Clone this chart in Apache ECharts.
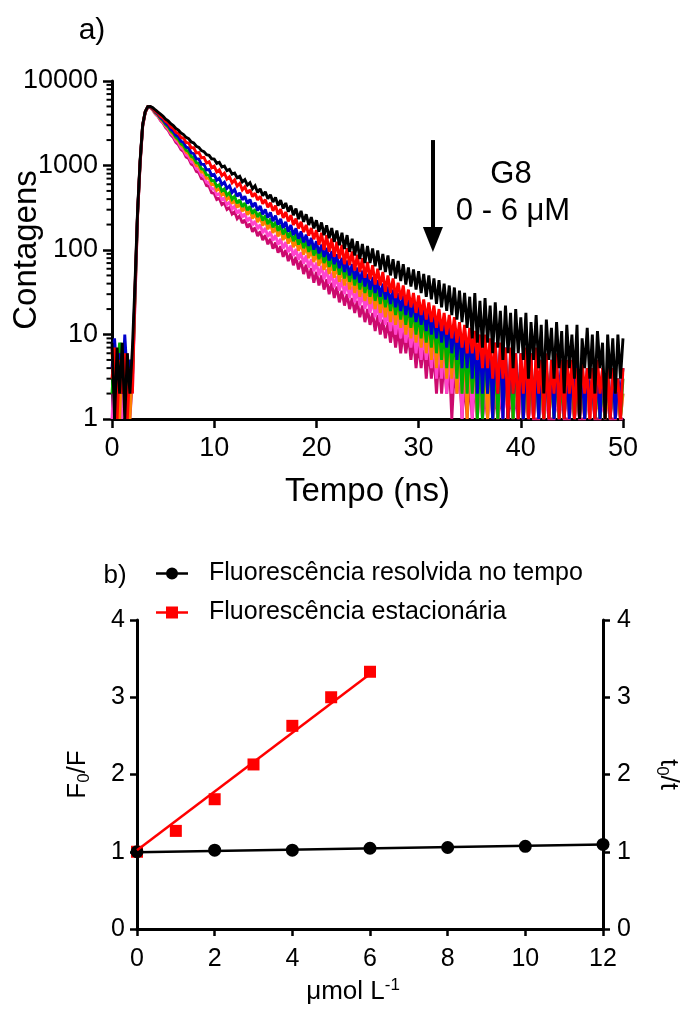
<!DOCTYPE html>
<html>
<head>
<meta charset="utf-8">
<script src="https://cdn.jsdelivr.net/npm/echarts@6/dist/echarts.min.js"></script>
<style>
  html, body { margin: 0; padding: 0; background: #fff; }
  #chart { width: 685px; height: 1017px; }
</style>
</head>
<body>
<div id="chart"></div>
<script>
const FONT = '"Liberation Sans", Arial, sans-serif';

// ---------- a) fluorescence decays: counts per 0.25 ns channel, 0–50 ns (10 channels per row) ----------
const channelNs = 0.25;

const decay0uM = [
  8, 1, 7, 2, 8, 1, 6, 2, 7, 40,
  290, 1150, 3050, 4350, 4980, 5010, 4820, 4540, 4290, 4060,
  3830, 3540, 3370, 3130, 2970, 2740, 2620, 2430, 2320, 2150,
  2080, 1900, 1850, 1690, 1640, 1500, 1460, 1340, 1320, 1200,
  1190, 1060, 1090, 960, 985, 870, 900, 790, 815, 715,
  745, 640, 680, 585, 625, 530, 575, 480, 530, 440,
  490, 405, 450, 370, 420, 335, 390, 310, 360, 285,
  335, 258, 310, 232, 290, 215, 265, 198, 245, 180,
  225, 165, 212, 150, 196, 138, 182, 125, 170, 114,
  160, 103, 150, 95, 136, 86, 127, 78, 118, 70,
  112, 70, 104, 64, 99, 58, 90, 55, 86, 50,
  78, 46, 74, 43, 68, 39, 62, 37, 59, 34,
  56, 31, 52, 28, 50, 26, 46, 23, 44, 21,
  40, 19, 38, 17, 36, 15, 33, 14, 31, 12,
  28, 9, 31, 8, 25, 7, 27, 8, 22, 6,
  24, 7, 19, 5, 22, 6, 18, 4, 20, 6,
  16, 5, 18, 3, 14, 5, 17, 4, 13, 2,
  15, 5, 12, 3, 14, 4, 11, 2, 13, 4,
  10, 3, 13, 1, 9, 4, 12, 3, 10, 2,
  11, 4, 8, 1, 10, 3, 9, 2, 10, 3,
  9];

const decay1uM = [
  3, 7, 1, 5, 2, 6, 1, 4, 2, 35,
  275, 1120, 3020, 4320, 4960, 4950, 4720, 4380, 4160, 3810,
  3640, 3320, 3170, 2870, 2750, 2470, 2400, 2150, 2100, 1870,
  1840, 1620, 1620, 1410, 1420, 1230, 1250, 1070, 1110, 940,
  985, 840, 890, 760, 810, 690, 735, 625, 675, 570,
  615, 515, 560, 470, 515, 428, 470, 390, 432, 352,
  395, 320, 362, 290, 335, 262, 305, 240, 282, 218,
  258, 198, 236, 180, 216, 163, 198, 148, 182, 134,
  172, 115, 160, 100, 150, 95, 137, 83, 125, 79,
  115, 68, 105, 66, 96, 57, 88, 55, 80, 47,
  72, 45, 66, 39, 60, 38, 55, 32, 50, 31,
  46, 27, 41, 26, 38, 22, 34, 21, 31, 18,
  29, 17, 26, 15, 24, 14, 22, 12, 20, 11,
  18, 10, 17, 9, 16, 8, 14, 7, 13, 6,
  12, 6, 11, 5, 10, 4, 10, 4, 9, 3,
  8, 2, 8, 3, 7, 1, 7, 2, 6, 1,
  6, 2, 7, 1, 6, 1, 7, 2, 5, 1,
  6, 1, 5, 2, 6, 1, 5, 1, 5, 2,
  5, 1, 4, 1, 5, 2, 4, 1, 4, 1,
  5, 2, 4, 1, 4, 1, 4, 2, 3, 1,
  4];

const decay2uM = [
  4, 9, 3, 6, 2, 10, 3, 5, 4, 32,
  268, 1100, 2990, 4300, 4940, 4920, 4680, 4310, 4060, 3690,
  3490, 3160, 2990, 2680, 2550, 2280, 2180, 1940, 1870, 1650,
  1610, 1410, 1380, 1200, 1190, 1030, 1030, 885, 895, 765,
  785, 670, 705, 595, 635, 535, 575, 480, 520, 432,
  475, 392, 432, 355, 395, 322, 362, 292, 332, 265,
  302, 242, 278, 220, 255, 200, 234, 182, 215, 165,
  197, 150, 181, 136, 166, 123, 152, 112, 139, 101,
  127, 91, 116, 83, 106, 75, 97, 68, 89, 61,
  81, 55, 75, 50, 68, 45, 62, 41, 57, 37,
  52, 34, 48, 31, 44, 28, 40, 26, 37, 23,
  34, 21, 31, 19, 29, 17, 26, 16, 24, 14,
  22, 13, 20, 11, 19, 10, 17, 9, 16, 8,
  15, 7, 14, 6, 13, 5, 12, 4, 11, 4,
  10, 3, 10, 2, 9, 2, 9, 2, 8, 1,
  8, 2, 7, 1, 7, 1, 6, 2, 6, 1,
  6, 1, 5, 2, 6, 1, 5, 1, 5, 2,
  4, 1, 5, 1, 4, 2, 5, 1, 4, 1,
  4, 2, 5, 1, 4, 1, 4, 2, 3, 1,
  4, 1, 4, 2, 3, 1, 4, 1, 3, 2,
  4];

const decay3uM = [
  2, 6, 4, 8, 3, 7, 2, 5, 3, 30,
  262, 1080, 2960, 4280, 4930, 4900, 4640, 4250, 3990, 3610,
  3390, 3060, 2870, 2570, 2420, 2160, 2040, 1810, 1720, 1520,
  1460, 1280, 1240, 1080, 1050, 915, 895, 775, 770, 660,
  665, 565, 592, 500, 528, 445, 477, 398, 432, 358,
  393, 324, 360, 295, 330, 268, 303, 245, 278, 223,
  256, 203, 235, 185, 216, 168, 198, 153, 182, 139,
  167, 127, 154, 116, 141, 105, 129, 95, 118, 86,
  108, 78, 99, 70, 91, 63, 83, 57, 76, 51,
  70, 46, 64, 42, 59, 38, 54, 34, 49, 31,
  45, 28, 41, 25, 37, 23, 34, 21, 31, 19,
  28, 17, 26, 15, 24, 13, 22, 12, 20, 10,
  18, 9, 17, 8, 15, 7, 14, 6, 13, 5,
  12, 4, 11, 4, 10, 3, 10, 2, 9, 2,
  8, 2, 8, 1, 7, 1, 7, 2, 6, 1,
  6, 1, 6, 2, 5, 1, 5, 1, 5, 2,
  4, 1, 5, 1, 4, 2, 4, 1, 4, 1,
  4, 2, 3, 1, 4, 1, 3, 1, 4, 2,
  3, 1, 3, 1, 4, 1, 3, 2, 3, 1,
  3, 1, 3, 1, 4, 1, 3, 2, 3, 1,
  3];

const decay4uM = [
  6, 2, 5, 1, 7, 3, 4, 1, 4, 28,
  257, 1060, 2930, 4260, 4910, 4880, 4590, 4190, 3920, 3540,
  3320, 2980, 2790, 2490, 2340, 2080, 1960, 1730, 1640, 1440,
  1380, 1200, 1160, 1000, 975, 840, 825, 705, 705, 595,
  605, 510, 535, 450, 475, 398, 428, 355, 388, 318,
  352, 288, 321, 261, 294, 236, 268, 214, 245, 194,
  224, 176, 204, 159, 187, 145, 171, 131, 157, 119,
  144, 108, 132, 98, 120, 88, 110, 80, 101, 72,
  93, 65, 85, 58, 77, 52, 70, 47, 65, 42,
  59, 38, 54, 34, 49, 31, 45, 28, 41, 25,
  37, 23, 34, 20, 31, 18, 28, 16, 26, 14,
  24, 13, 22, 12, 20, 10, 18, 9, 17, 8,
  15, 7, 14, 6, 13, 5, 12, 4, 11, 4,
  10, 3, 9, 3, 9, 2, 8, 2, 7, 1,
  7, 2, 6, 1, 6, 2, 5, 1, 5, 1,
  5, 1, 4, 2, 5, 1, 4, 1, 4, 2,
  4, 1, 3, 1, 4, 1, 3, 2, 3, 1,
  4, 1, 3, 1, 3, 2, 3, 1, 3, 1,
  3, 1, 3, 2, 2, 1, 3, 1, 3, 1,
  2, 1, 3, 1, 2, 1, 3, 1, 2, 1,
  2];

const decay5uM = [
  1, 5, 2, 4, 1, 6, 2, 4, 2, 26,
  252, 1040, 2900, 4240, 4890, 4860, 4540, 4130, 3860, 3470,
  3240, 2900, 2700, 2400, 2240, 1980, 1860, 1630, 1540, 1340,
  1280, 1110, 1070, 920, 890, 765, 745, 635, 625, 530,
  530, 448, 465, 392, 412, 344, 367, 305, 330, 272,
  298, 244, 269, 219, 243, 197, 220, 177, 200, 159,
  182, 143, 165, 129, 150, 116, 136, 104, 124, 94,
  113, 85, 103, 77, 94, 69, 86, 62, 78, 56,
  71, 50, 65, 45, 59, 40, 54, 36, 49, 33,
  45, 30, 41, 27, 37, 24, 34, 22, 31, 20,
  28, 18, 26, 16, 23, 14, 21, 13, 19, 11,
  18, 10, 16, 9, 15, 8, 13, 7, 12, 6,
  11, 5, 10, 5, 9, 4, 9, 3, 8, 3,
  7, 2, 7, 2, 6, 2, 6, 1, 5, 2,
  5, 1, 4, 1, 4, 1, 4, 1, 3, 1,
  4, 1, 3, 1, 3, 1, 3, 1, 3, 1,
  2, 1, 3, 1, 2, 1, 3, 1, 2, 1,
  2, 1, 3, 1, 2, 1, 2, 1, 2, 1,
  3, 1, 2, 1, 2, 1, 2, 1, 2, 1,
  3, 1, 2, 1, 2, 1, 2, 1, 2, 1,
  2];

const decay6uM = [
  7, 2, 6, 1, 5, 2, 6, 1, 3, 24,
  247, 1020, 2870, 4220, 4870, 4840, 4490, 4070, 3800, 3390,
  3160, 2810, 2610, 2310, 2140, 1880, 1760, 1540, 1460, 1260,
  1210, 1040, 995, 850, 825, 700, 685, 578, 565, 475,
  468, 395, 410, 345, 360, 302, 318, 266, 284, 235,
  254, 208, 228, 185, 205, 164, 184, 146, 166, 131,
  150, 117, 135, 104, 122, 93, 111, 83, 100, 74,
  91, 66, 83, 59, 75, 52, 67, 46, 61, 41,
  55, 38, 50, 34, 45, 30, 41, 27, 37, 24,
  33, 22, 30, 20, 27, 18, 25, 16, 22, 14,
  20, 13, 18, 11, 17, 10, 15, 9, 14, 8,
  13, 7, 12, 6, 11, 6, 10, 5, 9, 4,
  8, 4, 8, 3, 7, 3, 6, 2, 6, 2,
  5, 2, 5, 1, 4, 2, 4, 1, 3, 1,
  3, 1, 3, 1, 3, 1, 2, 1, 3, 1,
  2, 1, 2, 1, 3, 1, 2, 1, 2, 1,
  2, 1, 2, 1, 2, 1, 1, 1, 2, 1,
  2, 1, 1, 1, 2, 1, 2, 1, 1, 1,
  2, 1, 2, 1, 1, 1, 2, 1, 2, 1,
  1, 1, 2, 1, 2, 1, 1, 1, 2, 1,
  1];

// drawn from the most quenched (bottom) to the unquenched curve (top)
const decaySets = [
  { name: 'G8 6 µM', color: '#CC0A6E', values: decay6uM },
  { name: 'G8 5 µM', color: '#FF44CC', values: decay5uM },
  { name: 'G8 4 µM', color: '#FF8000', values: decay4uM },
  { name: 'G8 3 µM', color: '#00B000', values: decay3uM },
  { name: 'G8 2 µM', color: '#0000CC', values: decay2uM },
  { name: 'G8 1 µM', color: '#FF0000', values: decay1uM },
  { name: 'G8 0 µM', color: '#000000', values: decay0uM }
];

const countTickLabels = ['1', '10', '100', '1000', '10000'];
const timeTickLabels = ['0', '10', '20', '30', '40', '50'];
const minorMultipliers = [2, 3, 4, 5, 6, 7, 8, 9];

// quencher arrow (time in ns, counts)
const arrowTime = 31.4;
const arrowFrom = 2000;
const arrowTo = 133;

// ---------- b) Stern–Volmer ----------
const concTR = [0, 2, 4, 6, 8, 10, 12];
const ratioTR = [1.0, 1.02, 1.02, 1.045, 1.055, 1.07, 1.095];
const concSS = [0, 1, 2, 3, 4, 5, 6];
const ratioSS = [1.0, 1.27, 1.68, 2.13, 2.63, 3.0, 3.33];
const fitTRx = [0, 12];
const fitTRy = [0.995, 1.095];
const fitSSx = [0, 6];
const fitSSy = [1.02, 3.30];

const nameTR = 'Fluorescência resolvida no tempo';
const nameSS = 'Fluorescência estacionária';

const zip = (xs, ys) => xs.map((x, i) => [x, ys[i]]);

const minorTicks = [];
countTickLabels.slice(0, -1).forEach(lbl => {
  const base = Number(lbl);
  minorMultipliers.forEach(m => minorTicks.push([0, base * m]));
});

const axisLineStyle = { color: '#000', width: 3 };
const tickStyle = { color: '#000', width: 2.5 };

const chart = echarts.init(document.getElementById('chart'), null, { renderer: 'canvas' });

const option = {
  animation: false,
  backgroundColor: '#fff',
  textStyle: { fontFamily: FONT, color: '#000' },
  grid: [
    { left: 112, right: 62, top: 81, height: 338, containLabel: false, outerBoundsMode: 'none' },
    { left: 137, right: 82, top: 620, height: 309, containLabel: false, outerBoundsMode: 'none' }
  ],
  legend: {
    data: [
      { name: nameTR, icon: 'path://M0,4.8 L11,4.8 L11,7.2 L0,7.2 Z M21,4.8 L32,4.8 L32,7.2 L21,7.2 Z M10,6 A6,6 0 1,1 22,6 A6,6 0 1,1 10,6 Z' },
      { name: nameSS, icon: 'path://M0,4.8 L11,4.8 L11,7.2 L0,7.2 Z M21,4.8 L32,4.8 L32,7.2 L21,7.2 Z M10,0 L22,0 L22,12 L10,12 Z' }
    ],
    orient: 'vertical',
    left: 156,
    top: 561,
    padding: 0,
    itemWidth: 32,
    itemHeight: 12,
    itemGap: 14,
    selectedMode: false,
    textStyle: { fontFamily: FONT, fontSize: 25, color: '#000', padding: [0, 0, 0, 16] }
  },
  xAxis: [
    {
      gridIndex: 0, type: 'value', min: 0, max: 50, interval: 10,
      axisLine: { onZero: false, lineStyle: axisLineStyle },
      axisTick: { length: 9, lineStyle: tickStyle },
      splitLine: { show: false },
      axisLabel: { fontSize: 27, color: '#000', margin: 16, fontFamily: FONT,
        formatter: v => timeTickLabels[Math.round(v / 10)] },
      name: 'Tempo (ns)', nameLocation: 'middle', nameGap: 56, nameMoveOverlap: false,
      nameTextStyle: { fontSize: 33, color: '#000', fontFamily: FONT }
    },
    {
      gridIndex: 1, type: 'value', min: 0, max: 12, interval: 2,
      axisLine: { onZero: false, lineStyle: axisLineStyle },
      axisTick: { length: 7, lineStyle: tickStyle },
      splitLine: { show: false },
      axisLabel: { fontSize: 25, color: '#000', margin: 18, fontFamily: FONT },
      name: '{t|μmol L}{p|-1}', nameLocation: 'middle', nameGap: 48, nameMoveOverlap: false,
      nameTextStyle: {
        fontFamily: FONT, color: '#000',
        rich: {
          t: { fontSize: 26, lineHeight: 30, fontFamily: FONT, color: '#000' },
          p: { fontSize: 17, lineHeight: 14, verticalAlign: 'top', fontFamily: FONT, color: '#000', padding: [0, 34, 0, 0] }
        }
      }
    }
  ],
  yAxis: [
    {
      gridIndex: 0, type: 'log', logBase: 10, min: 1, max: 10000,
      axisLine: { onZero: false, lineStyle: axisLineStyle },
      axisTick: { length: 9, lineStyle: tickStyle },
      splitLine: { show: false },
      minorTick: { show: false },
      axisLabel: { fontSize: 27, color: '#000', margin: 14, fontFamily: FONT,
        formatter: v => countTickLabels[Math.round(Math.log10(v))] },
      name: 'Contagens', nameLocation: 'middle', nameGap: 69, nameMoveOverlap: false,
      nameTextStyle: { fontSize: 33, color: '#000', fontFamily: FONT }
    },
    {
      gridIndex: 1, type: 'value', min: 0, max: 4, interval: 1, position: 'left',
      axisLine: { onZero: false, lineStyle: axisLineStyle },
      axisTick: { length: 7, lineStyle: tickStyle },
      splitLine: { show: false },
      axisLabel: { fontSize: 25, color: '#000', margin: 12, fontFamily: FONT },
      name: '{t|F}{s|0}{t|/F}', nameLocation: 'middle', nameGap: 44, nameRotate: 90, nameMoveOverlap: false,
      nameTextStyle: {
        fontFamily: FONT, color: '#000',
        rich: {
          t: { fontSize: 26, lineHeight: 30, fontFamily: FONT, color: '#000' },
          s: { fontSize: 17, lineHeight: 12, verticalAlign: 'bottom', fontFamily: FONT, color: '#000' }
        }
      }
    },
    {
      gridIndex: 1, type: 'value', min: 0, max: 4, interval: 1, position: 'right',
      axisLine: { onZero: false, lineStyle: axisLineStyle },
      axisTick: { length: 7, lineStyle: tickStyle },
      splitLine: { show: false },
      axisLabel: { fontSize: 25, color: '#000', margin: 14, fontFamily: FONT },
      name: '{t|t}{s|0}{t|/t}', nameLocation: 'middle', nameGap: 50, nameRotate: -90, nameMoveOverlap: false,
      nameTextStyle: {
        fontFamily: FONT, color: '#000',
        rich: {
          t: { fontSize: 26, lineHeight: 30, fontFamily: FONT, color: '#000' },
          s: { fontSize: 17, lineHeight: 12, verticalAlign: 'bottom', fontFamily: FONT, color: '#000' }
        }
      }
    }
  ],
  graphic: [
    { type: 'text', x: 92, y: 31, style: { text: 'a)', fontSize: 30, fontFamily: FONT, fill: '#000', align: 'center', verticalAlign: 'middle' } },
    { type: 'text', x: 115, y: 576, style: { text: 'b)', fontSize: 26, fontFamily: FONT, fill: '#000', align: 'center', verticalAlign: 'middle' } },
    { type: 'text', x: 511, y: 174, style: { text: 'G8', fontSize: 31, fontFamily: FONT, fill: '#000', align: 'center', verticalAlign: 'middle' } },
    { type: 'text', x: 513, y: 211, style: { text: '0 - 6 μM', fontSize: 31, fontFamily: FONT, fill: '#000', align: 'center', verticalAlign: 'middle' } }
  ],
  series: [
    ...decaySets.map(s => ({
      type: 'line', name: s.name, xAxisIndex: 0, yAxisIndex: 0,
      data: s.values.map((v, i) => [i * channelNs, v]),
      symbol: 'none', showSymbol: false, silent: true,
      lineStyle: { color: s.color, width: 2.9, join: 'miter', miterLimit: 2 },
      itemStyle: { color: s.color }
    })),
    {
      // log minor ticks on the count axis
      type: 'custom', name: 'minorTicks', xAxisIndex: 0, yAxisIndex: 0, silent: true,
      data: minorTicks,
      renderItem: (params, api) => {
        const p = api.coord([api.value(0), api.value(1)]);
        return { type: 'line', shape: { x1: p[0] - 5.5, y1: p[1], x2: p[0], y2: p[1] },
                 style: { stroke: '#000', lineWidth: 2 } };
      }
    },
    {
      // quencher addition arrow
      type: 'line', name: 'arrow', xAxisIndex: 0, yAxisIndex: 0, data: [], silent: true,
      markLine: {
        silent: true, animation: false,
        symbol: ['none', 'triangle'], symbolSize: [20, 25],
        label: { show: false },
        lineStyle: { color: '#000', width: 4, type: 'solid' },
        data: [[{ coord: [arrowTime, arrowFrom] }, { coord: [arrowTime, arrowTo] }]]
      }
    },
    {
      type: 'line', name: 'fitSS', xAxisIndex: 1, yAxisIndex: 1,
      data: zip(fitSSx, fitSSy), symbol: 'none', showSymbol: false, silent: true,
      lineStyle: { color: '#FF0000', width: 2.5 }
    },
    {
      type: 'line', name: 'fitTR', xAxisIndex: 1, yAxisIndex: 1,
      data: zip(fitTRx, fitTRy), symbol: 'none', showSymbol: false, silent: true,
      lineStyle: { color: '#000', width: 2.5 }
    },
    {
      type: 'scatter', name: nameSS, xAxisIndex: 1, yAxisIndex: 1,
      data: zip(concSS, ratioSS), symbol: 'rect', symbolSize: 12,
      itemStyle: { color: '#FF0000', opacity: 1 }, silent: true
    },
    {
      type: 'scatter', name: nameTR, xAxisIndex: 1, yAxisIndex: 1,
      data: zip(concTR, ratioTR), symbol: 'circle', symbolSize: 13,
      itemStyle: { color: '#000', opacity: 1 }, silent: true
    }
  ]
};

chart.setOption(option);
</script>
</body>
</html>
